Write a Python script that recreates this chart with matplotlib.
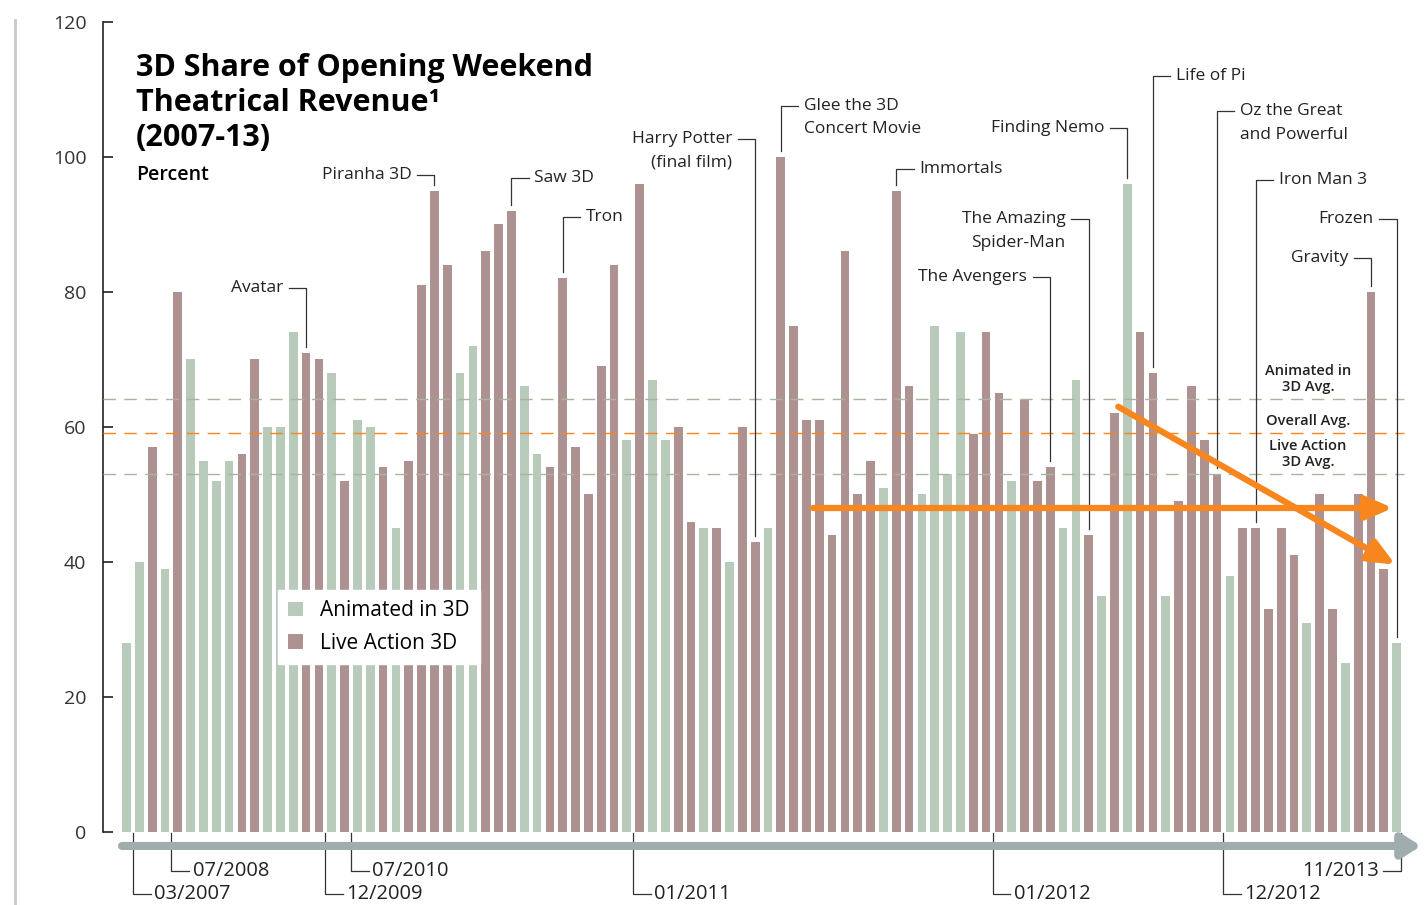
import matplotlib
matplotlib.use("Agg")
import matplotlib.pyplot as plt
from matplotlib.patches import Patch
from matplotlib.lines import Line2D

plt.rcParams['font.family'] = ['Open Sans', 'DejaVu Sans']

# ── Data ────────────────────────────────────────────────────────────────────
# 3D share of opening weekend revenue, one bar per film, 03/2007 .. 11/2013
share = [28, 40, 57, 39, 80, 70, 55, 52, 55, 56,
         70, 60, 60, 74, 71, 70, 68, 52, 61, 60,
         54, 45, 55, 81, 95, 84, 68, 72, 86, 90,
         92, 66, 56, 54, 82, 57, 50, 69, 84, 58,
         96, 67, 58, 60, 46, 45, 45, 40, 60, 43,
         45, 100, 75, 61, 61, 44, 86, 50, 55, 51,
         95, 66, 50, 75, 53, 74, 59, 74, 65, 52,
         64, 52, 54, 45, 67, 44, 35, 62, 96, 74,
         68, 35, 49, 66, 58, 53, 38, 45, 45, 33,
         45, 41, 31, 50, 33, 25, 50, 80, 39, 28]
# A = animated in 3D, L = live action 3D
kind = ("AALALAAAAL" "LAAALLALAA" "LALLLLAALL" "LAALLLLLLA" "LAALLALALL"
        "ALLLLLLLLA" "LLAAAALLLA" "LLLAALALAL" "LALLLLALLL" "LLALLALLLA")

avg_names = [["Animated in", "3D Avg."], ["Overall Avg."], ["Live Action", "3D Avg."]]
avg_values = [64.1, 59.1, 53.0]

# called-out films: label, bar index, label height, side of the label
films = ["Avatar", "Piranha 3D", "Saw 3D", "Tron", "Harry Potter\n(final film)",
         "Glee the 3D\nConcert Movie", "Immortals", "Finding Nemo",
         "The Amazing\nSpider-Man", "The Avengers", "Life of Pi",
         "Oz the Great\nand Powerful", "Iron Man 3", "Gravity", "Frozen"]
film_bar = [14, 24, 30, 34, 49, 51, 60, 78, 75, 72, 80, 85, 88, 97, 99]
film_label_y = [80.6, 97.3, 96.9, 91.1, 102.7, 107.6, 98.2, 104.3, 90.8, 82.2,
                112.0, 106.8, 96.6, 85.0, 90.8]
film_side = ["L", "L", "R", "R", "L", "R", "R", "L", "L", "L", "R", "R", "R", "L", "L"]

# date markers: label, bar boundary, row
dates = ["03/2007", "07/2008", "12/2009", "07/2010", "01/2011", "01/2012", "12/2012", "11/2013"]
date_pos = [0.5, 3.5, 15.5, 17.5, 39.5, 67.5, 85.5, 99.35]
date_row = [2, 1, 2, 1, 2, 2, 2, 1]

# trend arrows (start bar, start value, end bar, end value)
trend_flat = (53.5, 48.0, 98.7, 48.0)
trend_down = (77.3, 63.0, 98.9, 39.6)

GREEN = "#b8cab9"
MAUVE = "#ae9292"
ORANGE = "#f7861f"
DASH_GREEN = "#aab59d"
BAND = "#9fadaf"
INK = "#222222"

# ── Figure ──────────────────────────────────────────────────────────────────
fig = plt.figure(figsize=(14.25, 9.05), dpi=100)
ax = fig.add_axes([103 / 1425, 73 / 905, 1307 / 1425, 810 / 905])
ax.set_xlim(-1.83, 100.04)
ax.set_ylim(0, 120)

x = list(range(len(share)))
colors = [GREEN if k == "A" else MAUVE for k in kind]
ax.bar(x, share, width=0.68, color=colors, zorder=2)

for spine in ("top", "right", "bottom"):
    ax.spines[spine].set_visible(False)
ax.spines["left"].set_color(INK)
ax.spines["left"].set_linewidth(1.2)
ax.set_xticks([])
ax.set_yticks(range(0, 121, 20))
ax.tick_params(axis="y", direction="in", length=7, width=1.2, color=INK,
               labelsize=14, labelcolor="#333333", pad=12)
for lbl in ax.get_yticklabels():
    lbl.set_verticalalignment("center_baseline")

# average lines
for val, col in zip(avg_values, [DASH_GREEN, ORANGE, DASH_GREEN]):
    ax.plot([-1.83, 99.6], [val, val], color=col, lw=1.0, dashes=(9, 6), zorder=3)

avg_label_y = [[68.3, 65.9], [60.9], [57.2, 54.8]]
for names, ys in zip(avg_names, avg_label_y):
    for name, yy in zip(names, ys):
        ax.text(92.1, yy, name, ha="center", va="center", fontsize=10.5,
                fontweight="semibold", color=INK, zorder=6)

# trend arrows
for x0, y0, x1, y1 in (trend_flat, trend_down):
    ax.annotate("", xy=(x1, y1), xytext=(x0, y0),
                arrowprops=dict(arrowstyle="-|>,head_length=0.8,head_width=0.35",
                                mutation_scale=20, lw=4.5, color=ORANGE,
                                shrinkA=0, shrinkB=0), zorder=5)

# film callouts
arm = 1.35
for name, i, ly, side in zip(films, film_bar, film_label_y, film_side):
    sgn = -1 if side == "L" else 1
    ax.plot([i + sgn * arm, i, i], [ly, ly, share[i] + 0.9], color="#333333",
            lw=0.9, clip_on=False, zorder=4)
    for k, line in enumerate(name.split("\n")):
        ax.text(i + sgn * (arm + 0.45), ly - k * 3.5, line,
                ha="right" if side == "L" else "left", va="center",
                fontsize=12.5, color=INK, zorder=6)

# time band with arrow
ax.annotate("", xy=(100.9, -2.07), xytext=(-0.35, -2.07), annotation_clip=False,
            arrowprops=dict(arrowstyle="-|>,head_length=0.55,head_width=0.35",
                            mutation_scale=20, lw=5.8, color=BAND,
                            shrinkA=0, shrinkB=0))

# date markers
row_y = {1: -5.8, 2: -9.2}
for lab, pos, row in zip(dates, date_pos, date_row):
    yy = row_y[row]
    if pos > 99:
        ax.plot([pos, pos, pos - 1.4], [-0.2, yy, yy], color="#333333", lw=0.9,
                clip_on=False)
        ax.text(pos - 1.7, yy, lab, ha="right", va="center", fontsize=14.5,
                color=INK, clip_on=False)
    else:
        ax.plot([pos, pos, pos + 1.4], [-0.2, yy, yy], color="#333333", lw=0.9,
                clip_on=False)
        ax.text(pos + 1.65, yy, lab, ha="left", va="center", fontsize=14.5,
                color=INK, clip_on=False)

# legend
handles = [Patch(facecolor=GREEN, label="Animated in 3D"),
           Patch(facecolor=MAUVE, label="Live Action 3D")]
leg = ax.legend(handles=handles, loc="upper left",
                bbox_to_anchor=(278 / 1425, 1 - 590 / 905),
                bbox_transform=fig.transFigure, fontsize=15, frameon=True,
                fancybox=False, edgecolor="white", facecolor="white",
                framealpha=1, handlelength=0.7, handleheight=0.7,
                handletextpad=0.8, borderpad=0.5, labelspacing=0.55,
                borderaxespad=0)
leg.set_zorder(7)

# title block
fig.text(136 / 1425, 1 - 53 / 905,
         "3D Share of Opening Weekend\nTheatrical Revenue\u00b9\n(2007-13)",
         ha="left", va="top", fontsize=22, fontweight="bold", color="black",
         linespacing=1.22)
fig.text(136 / 1425, 1 - 175 / 905, "Percent", ha="left", va="center",
         fontsize=14, fontweight="semibold", color="black")

# decorative left rule
fig.add_artist(Line2D([15 / 1425, 15 / 1425], [0, 1 - 20 / 905],
                      transform=fig.transFigure, color="#c8c8c8", lw=2))

fig.savefig("out.png", dpi=100, facecolor="white")
